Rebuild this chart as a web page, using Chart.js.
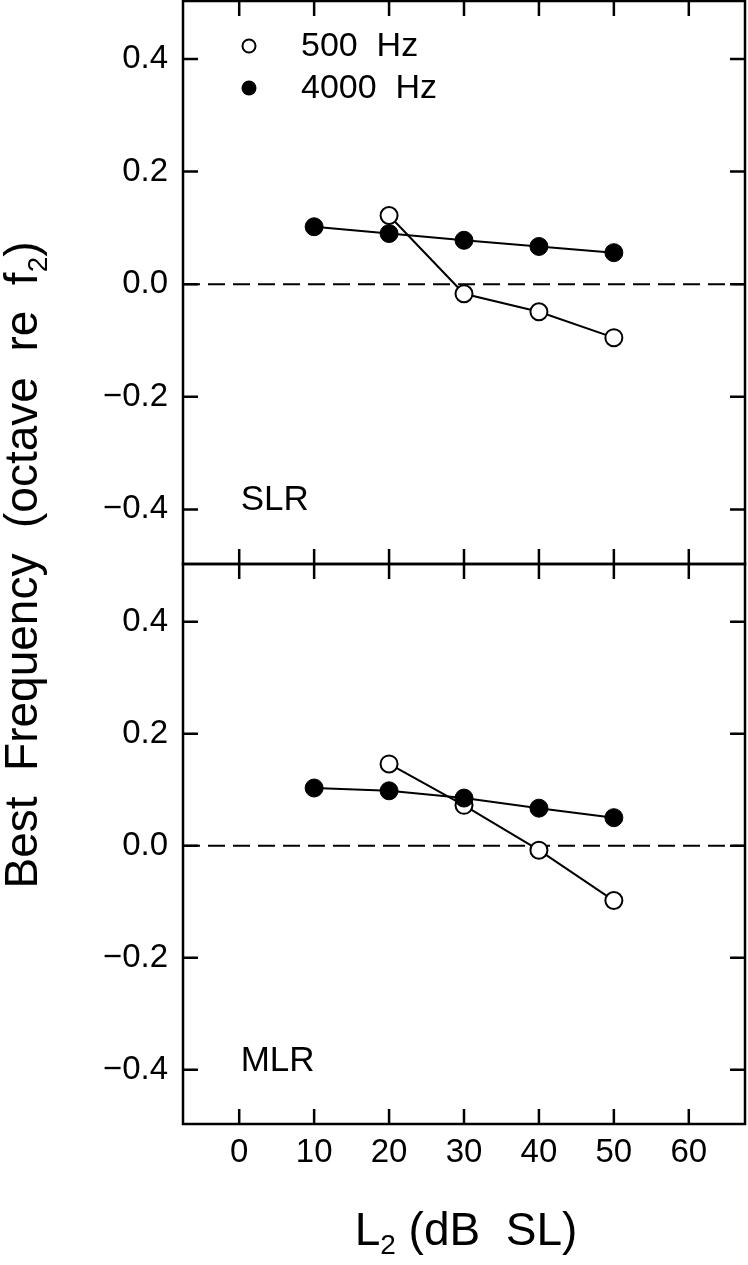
<!DOCTYPE html>
<html><head><meta charset="utf-8">
<script src="https://cdn.jsdelivr.net/npm/chart.js@4.4.1/dist/chart.umd.min.js"></script>
<style>
html,body{margin:0;padding:0;background:#fff;overflow:hidden;}
#wrap{position:relative;width:748px;height:1265px;overflow:hidden;}
canvas{position:absolute;left:0;}
#cTop{top:-60px;}
#cBot{top:0;}
</style></head><body>
<div id="wrap"><canvas id="cTop" width="748" height="1265"></canvas><canvas id="cBot" width="748" height="1265"></canvas></div>
<script>
// ---- data ----
const levels4000 = [10, 20, 30, 40, 50];
const levels500 = [20, 30, 40, 50];
const slr4000 = [0.102, 0.090, 0.078, 0.067, 0.056];
const slr500 = [0.122, -0.017, -0.049, -0.095];
const mlr4000 = [0.103, 0.098, 0.085, 0.067, 0.050];
const mlr500 = [0.146, 0.072, -0.008, -0.098];
const xTicks = [0, 10, 20, 30, 40, 50, 60];
const xTickLabels = ['0', '10', '20', '30', '40', '50', '60'];
const yTicks = [-0.4, -0.2, 0, 0.2, 0.4];
const yTickLabels = ['\u22120.4', '\u22120.2', '0.0', '0.2', '0.4'];
const seriesNames = ['500  Hz', '4000  Hz'];
const panelNames = ['SLR', 'MLR'];

const X_MIN = -7.5, X_MAX = 67.5, Y_MIN = -0.497, Y_MAX = 0.503;
const FONT = '"Liberation Sans", Arial, Helvetica, sans-serif';

function pts(xs, ys) { return xs.map((x, i) => ({ x: x, y: ys[i] })); }
function labelFor(arr, labels, v) {
  for (let i = 0; i < arr.length; i++) if (Math.abs(arr[i] - v) < 1e-6) return labels[i];
  return '';
}

const framePlugin = {
  id: 'frame',
  beforeDatasetsDraw(chart) {
    const ctx = chart.ctx, a = chart.chartArea, y = chart.scales.y;
    const y0 = y.getPixelForValue(0);
    ctx.save();
    ctx.strokeStyle = '#000';
    ctx.lineWidth = 2;
    ctx.setLineDash([17, 8]);
    ctx.beginPath();
    ctx.moveTo(a.left, y0); ctx.lineTo(a.right, y0);
    ctx.stroke();
    ctx.restore();
  },
  afterDraw(chart, args, opts) {
    const ctx = chart.ctx, a = chart.chartArea, xs = chart.scales.x, ys = chart.scales.y;
    const TL = 15;
    ctx.save();
    ctx.strokeStyle = '#000';
    ctx.lineWidth = 2.5;
    ctx.setLineDash([]);
    ctx.strokeRect(a.left, a.top, a.right - a.left, a.bottom - a.top);
    ctx.beginPath();
    xTicks.forEach(v => {
      const px = xs.getPixelForValue(v);
      ctx.moveTo(px, a.bottom); ctx.lineTo(px, a.bottom - TL);
      ctx.moveTo(px, a.top); ctx.lineTo(px, a.top + TL);
    });
    yTicks.forEach(v => {
      const py = ys.getPixelForValue(v);
      ctx.moveTo(a.left, py); ctx.lineTo(a.left + TL, py);
      ctx.moveTo(a.right, py); ctx.lineTo(a.right - TL, py);
    });
    ctx.stroke();
    // panel label
    ctx.fillStyle = '#000';
    ctx.font = '35px ' + FONT;
    ctx.textAlign = 'left';
    ctx.textBaseline = 'alphabetic';
    ctx.fillText(opts.panel, xs.getPixelForValue(0.2), ys.getPixelForValue(-0.4) + 1);
    // legend
    if (opts.legend) {
      const lx = a.left + 66, tx = a.left + 118;
      const rows = [a.top + 45, a.top + 87];
      ctx.lineWidth = 2;
      ctx.beginPath(); ctx.arc(lx, rows[0], 6.5, 0, Math.PI * 2);
      ctx.fillStyle = '#fff'; ctx.fill(); ctx.stroke();
      ctx.beginPath(); ctx.arc(lx, rows[1], 7.5, 0, Math.PI * 2);
      ctx.fillStyle = '#000'; ctx.fill();
      ctx.fillStyle = '#000';
      ctx.font = '34px ' + FONT;
      ctx.textBaseline = 'middle';
      ctx.fillText(seriesNames[0], tx, rows[0] + 1);
      ctx.fillText(seriesNames[1], tx, rows[1] + 1);
    }
    // axis titles (full-page canvas)
    if (opts.titles) {
      ctx.fillStyle = '#000';
      ctx.textBaseline = 'alphabetic';
      ctx.textAlign = 'left';
      const big = '46px ' + FONT, small = '28px ' + FONT;
      const yParts = [['Best  Frequency  (octave  re  f', big, 0], ['2', small, 10], [')', big, 0]];
      let total = 0;
      yParts.forEach(p => { ctx.font = p[1]; total += ctx.measureText(p[0]).width; });
      ctx.save();
      ctx.translate(37, 565);
      ctx.rotate(-Math.PI / 2);
      let cx = -total / 2;
      yParts.forEach(p => { ctx.font = p[1]; ctx.fillText(p[0], cx, p[2]); cx += ctx.measureText(p[0]).width; });
      ctx.restore();
      const xParts = [['L', big, 0], ['2', small, 9], [' (dB  SL)', big, 0]];
      total = 0;
      xParts.forEach(p => { ctx.font = p[1]; total += ctx.measureText(p[0]).width; });
      let x0 = (a.left + a.right) / 2 - total / 2 + 2;
      xParts.forEach(p => { ctx.font = p[1]; ctx.fillText(p[0], x0, 1245 + p[2]); x0 += ctx.measureText(p[0]).width; });
    }
    ctx.restore();
  }
};

function makeChart(id, d4000, d500, isBottom) {
  return new Chart(document.getElementById(id), {
    type: 'line',
    data: {
      datasets: [
        {
          label: seriesNames[1], data: pts(levels4000, d4000),
          borderColor: '#000', borderWidth: 2, backgroundColor: '#000',
          pointRadius: 9, pointBorderWidth: 1, pointBackgroundColor: '#000', pointBorderColor: '#000',
          tension: 0
        },
        {
          label: seriesNames[0], data: pts(levels500, d500),
          borderColor: '#000', borderWidth: 2, backgroundColor: '#fff',
          pointRadius: 8.5, pointBorderWidth: 2, pointBackgroundColor: '#fff', pointBorderColor: '#000',
          tension: 0
        }
      ]
    },
    options: {
      responsive: false,
      animation: false,
      devicePixelRatio: 1,
      // top canvas is shifted up by 60px: chart area page y 1..564 -> canvas y 61..624
      layout: {
        autoPadding: false,
        padding: isBottom ? { top: 564, right: 3, left: 0, bottom: 0 } : { top: 61, right: 3, left: 0, bottom: 641 }
      },
      plugins: {
        legend: { display: false },
        tooltip: { enabled: false },
        frame: { panel: isBottom ? panelNames[1] : panelNames[0], legend: !isBottom, titles: isBottom }
      },
      scales: {
        x: {
          type: 'linear', min: X_MIN, max: X_MAX,
          display: isBottom,
          grid: { display: false, drawTicks: false },
          border: { display: false },
          afterBuildTicks: s => { s.ticks = xTicks.map(v => ({ value: v })); },
          afterFit: s => { if (isBottom) s.height = 141; },
          ticks: {
            color: '#000', padding: 9, maxRotation: 0, autoSkip: false,
            font: { family: FONT, size: 33, lineHeight: 1.2 },
            callback: v => labelFor(xTicks, xTickLabels, v)
          }
        },
        y: {
          type: 'linear', min: Y_MIN, max: Y_MAX,
          grid: { display: false, drawTicks: false },
          border: { display: false },
          afterBuildTicks: s => { s.ticks = yTicks.map(v => ({ value: v })); },
          afterFit: s => { s.width = 183; },
          ticks: {
            color: '#000', padding: 15, autoSkip: false,
            font: { family: FONT, size: 33 },
            callback: v => labelFor(yTicks, yTickLabels, v)
          }
        }
      }
    },
    plugins: [framePlugin]
  });
}

makeChart('cTop', slr4000, slr500, false);
makeChart('cBot', mlr4000, mlr500, true);
</script>
</body></html>
